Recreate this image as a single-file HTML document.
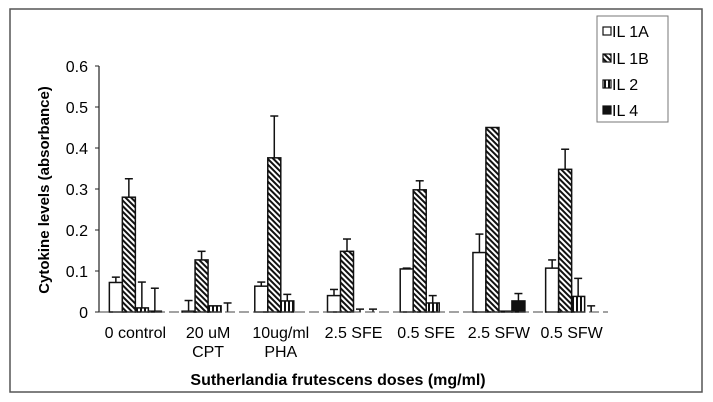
<!DOCTYPE html>
<html><head><meta charset="utf-8"><style>
body{margin:0;background:#fff;}
svg{display:block;font-family:"Liberation Sans",Arial,sans-serif;}
</style></head><body>
<svg id="chart" width="713" height="402">
<defs>
<pattern id="diag" patternUnits="userSpaceOnUse" width="4" height="4" patternTransform="rotate(-45)">
<rect width="4" height="4" fill="#fff"/><rect width="2" height="4" fill="#111"/>
</pattern>
<pattern id="vert" patternUnits="userSpaceOnUse" width="4" height="4">
<rect width="4" height="4" fill="#fff"/><rect width="2" height="4" fill="#111"/>
</pattern>
</defs>
<rect x="10" y="9" width="692" height="383" fill="none" stroke="#555" stroke-width="1.5"/>
<g id="plot"></g>
<g>
<rect x="597" y="16" width="71" height="106" fill="#fff" stroke="#777"/>
<rect x="603" y="27" width="8" height="8" fill="#fff" stroke="#111" stroke-width="1.2"/>
<text x="612" y="37" font-size="16">IL 1A</text>
<rect x="603" y="54" width="8" height="8" fill="url(#diag)" stroke="#111" stroke-width="1.2"/>
<text x="612" y="64" font-size="16">IL 1B</text>
<rect x="603" y="80" width="8" height="8" fill="url(#vert)" stroke="#111" stroke-width="1.2"/>
<text x="612" y="90" font-size="16">IL 2</text>
<rect x="603" y="106" width="8" height="8" fill="#111" stroke="#111" stroke-width="1.2"/>
<text x="612" y="116" font-size="16">IL 4</text>
</g>
<text transform="translate(49,190) rotate(-90)" text-anchor="middle" font-size="15" font-weight="bold">Cytokine levels (absorbance)</text>
<text x="338" y="385" text-anchor="middle" font-size="16" font-weight="bold">Sutherlandia frutescens doses (mg/ml)</text>
</svg>
<script>
const categories = [["0 control"],["20 uM","CPT"],["10ug/ml","PHA"],["2.5 SFE"],["0.5 SFE"],["2.5 SFW"],["0.5 SFW"]];
const seriesNames = ["IL 1A","IL 1B","IL 2","IL 4"];
const il1a = [0.072,0.002,0.063,0.040,0.105,0.145,0.107];
const il1b = [0.280,0.127,0.376,0.148,0.298,0.450,0.348];
const il2  = [0.010,0.015,0.027,0.000,0.022,0.002,0.038];
const il4  = [0.002,0.000,0.000,0.000,0.000,0.027,0.000];
const il1aErr = [0.013,0.026,0.010,0.015,0.002,0.045,0.020];
const il1bErr = [0.045,0.021,0.102,0.030,0.022,0.000,0.049];
const il2Err  = [0.063,0.000,0.016,0.007,0.018,0.000,0.044];
const il4Err  = [0.056,0.022,0.000,0.007,0.000,0.018,0.015];
const yTicks = [0,0.1,0.2,0.3,0.4,0.5,0.6];

const NS="http://www.w3.org/2000/svg";
const g=document.getElementById('plot');
const x0=99,x1=608,y0=312,yTop=66;
const groupW=(x1-x0)/categories.length;
const barW=13;
function yScale(v){return y0-(v/0.6)*(y0-yTop);}
function xBar(ci,si){return x0+groupW*(ci+0.5)-2*barW+si*barW;}
function mk(tag,attrs){const e=document.createElementNS(NS,tag);for(const k in attrs)e.setAttribute(k,attrs[k]);g.appendChild(e);return e;}

let ax=mk('line',{x1:x0,y1:yTop,x2:x0,y2:y0,stroke:'#222','stroke-width':1.2});


yTicks.forEach(t=>{
  const y=yScale(t);
  const tk=mk('line',{x1:x0-4,y1:y,x2:x0,y2:y,stroke:'#222'});
  
  
  const tx=mk('text',{x:x0-11,y:y+6,'text-anchor':'end','font-size':16});
  tx.textContent=t===0?'0':t.toFixed(1);
  
  
});
const series=[il1a,il1b,il2,il4];
const errs=[il1aErr,il1bErr,il2Err,il4Err];
const fills=['#fff','url(#diag)','url(#vert)','#111'];
categories.forEach((c,ci)=>{
  series.forEach((s,si)=>{
    const x=xBar(ci,si),v=s[ci],y=yScale(v);
    const r=mk('rect',{x:x,y:y,width:barW,height:Math.max(0,y0-y),fill:fills[si],stroke:'#111','stroke-width':1.5});
    
    
    const e=errs[si][ci];
    if(e>0){
      const ye=yScale(v+e),cx=x+barW/2;
      const l=mk('line',{x1:cx,y1:y,x2:cx,y2:ye,stroke:'#111','stroke-width':1.5});
      
      
      const cap=mk('line',{x1:cx-4,y1:ye,x2:cx+4,y2:ye,stroke:'#111','stroke-width':1.5});
      
      
    }
  });
  const cx=x0+groupW*(ci+0.5);
  c.forEach((line,li)=>{
    const t=mk('text',{x:cx,y:338+li*19,'text-anchor':'middle','font-size':16});
    t.textContent=line;
    
    
  });
});
let xa=mk('line',{x1:x0,y1:y0,x2:x1,y2:y0,stroke:'#444','stroke-width':1,'stroke-dasharray':'10 4'});


</script>
</body></html>
